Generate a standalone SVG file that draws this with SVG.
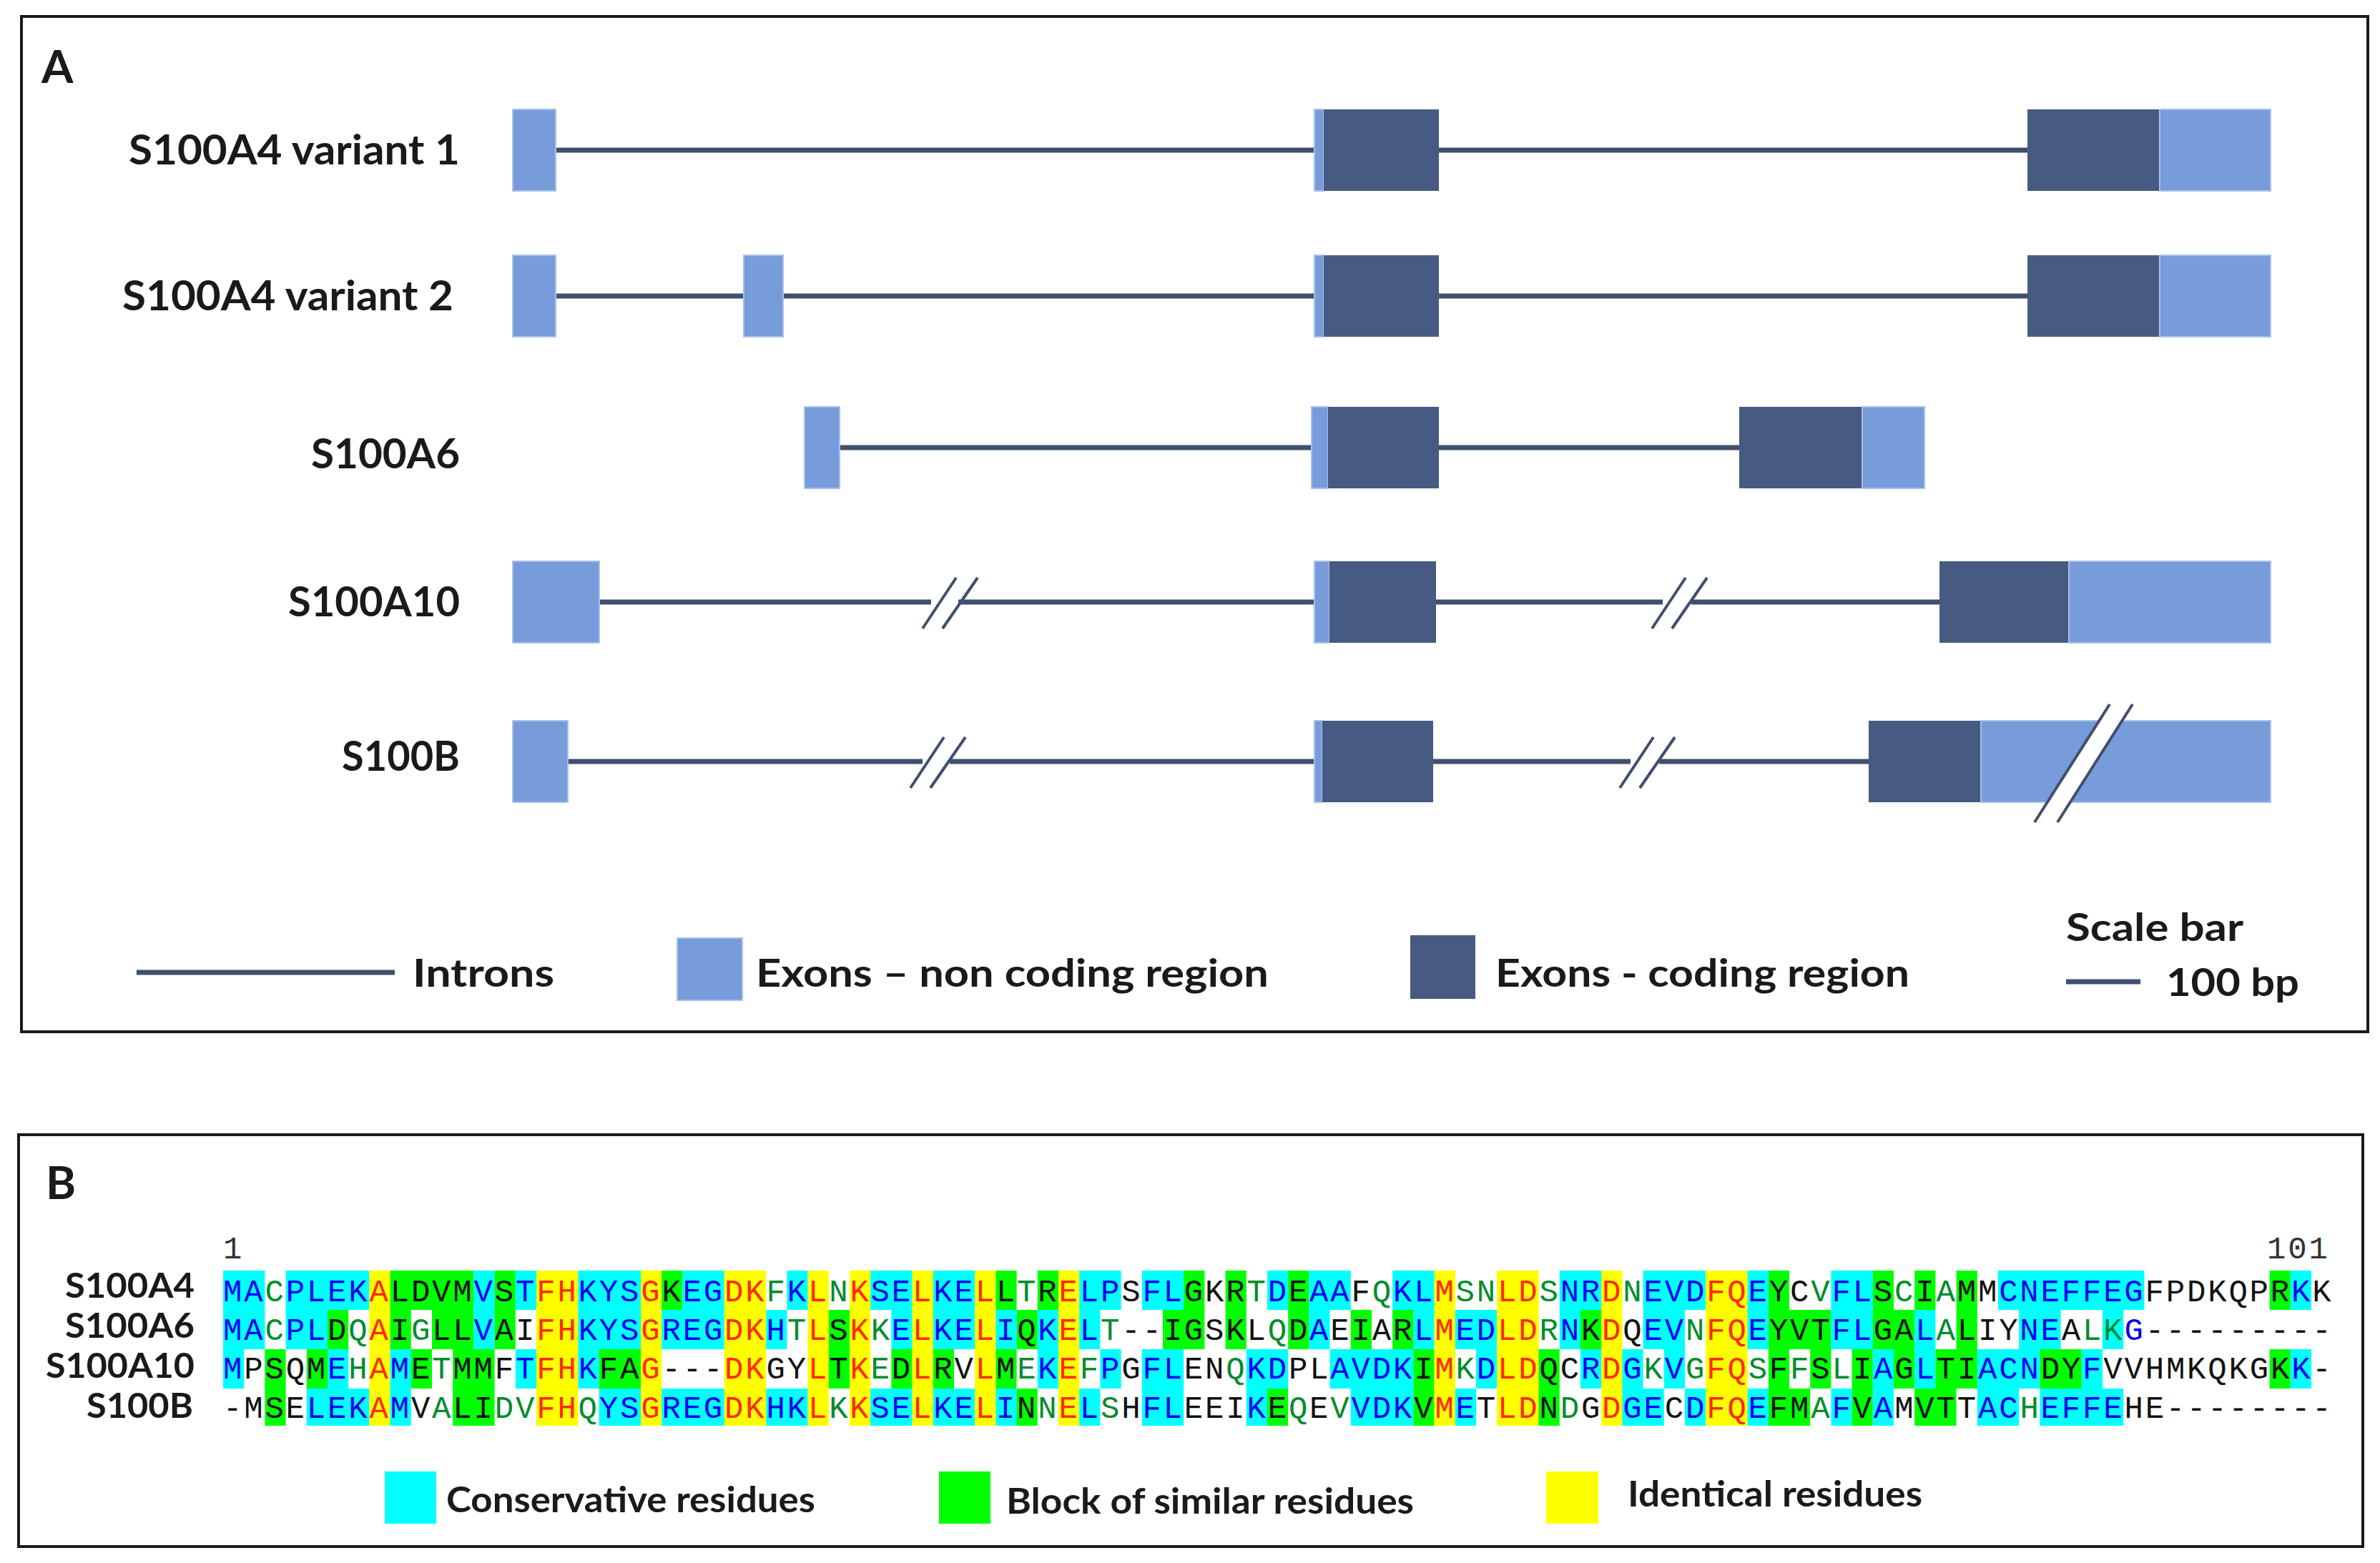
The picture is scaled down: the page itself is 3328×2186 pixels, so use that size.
<svg xmlns="http://www.w3.org/2000/svg" width="3328" height="2186" viewBox="0 0 3328 2186">
<defs>
<style>
.frame{fill:none;stroke:#1a1a1a;stroke-width:4}
.lbl{font-family:Lato,"Liberation Sans",sans-serif;font-weight:bold;fill:#1a1a1a}
.intron{stroke:#404f6c;stroke-width:7;fill:none}
.brk{stroke:#404f6c;stroke-width:4;fill:none}
.nc{fill:#789bda;stroke:#a8c0ec;stroke-width:2}
.cd{fill:#465a82}
.seq{font-family:"Liberation Mono","Courier New",monospace;font-size:44px;letter-spacing:2.8px}
.num{font-family:"Liberation Mono","Courier New",monospace;font-size:44px;letter-spacing:2.8px;fill:#333}
.b{fill:#0000f0}.r{fill:#ff2a00}.G{fill:#008c2c}.k{fill:#111}
.cy{fill:#00ffff}.gr{fill:#00ff00}.ye{fill:#ffff00}
</style>
</defs>
<rect width="3328" height="2186" fill="#fff"/>

<!-- Panel A -->
<g id="panelA">
<rect class="frame" x="30" y="23" width="3281" height="1420"/>
<text class="lbl" x="58" y="116" font-size="64">A</text>
</g>

<g id="labelsA" class="lbl" font-size="58" text-anchor="end">
<text x="643" y="230" textLength="463" lengthAdjust="spacingAndGlyphs">S100A4 variant 1</text>
<text x="634" y="434" textLength="463" lengthAdjust="spacingAndGlyphs">S100A4 variant 2</text>
<text x="643" y="655" textLength="208" lengthAdjust="spacingAndGlyphs">S100A6</text>
<text x="643" y="862" textLength="240" lengthAdjust="spacingAndGlyphs">S100A10</text>
<text x="643" y="1078" textLength="165" lengthAdjust="spacingAndGlyphs">S100B</text>
</g>

<g id="connectors">
<!-- row 1 -->
<line class="intron" x1="777" y1="210" x2="1838" y2="210"/>
<line class="intron" x1="2012" y1="210" x2="2835" y2="210"/>
<!-- row 2 -->
<line class="intron" x1="777" y1="414" x2="1040" y2="414"/>
<line class="intron" x1="1095" y1="414" x2="1838" y2="414"/>
<line class="intron" x1="2012" y1="414" x2="2835" y2="414"/>
<!-- row 3 -->
<line class="intron" x1="1174" y1="626" x2="1834" y2="626"/>
<line class="intron" x1="2012" y1="626" x2="2432" y2="626"/>
<!-- row 4 -->
<line class="intron" x1="838" y1="842" x2="1302" y2="842"/>
<line class="intron" x1="1340" y1="842" x2="1838" y2="842"/>
<line class="intron" x1="2008" y1="842" x2="2325" y2="842"/>
<line class="intron" x1="2365" y1="842" x2="2712" y2="842"/>
<path class="brk" d="M1290 879 L1337 808 M1318 879 L1367 808"/>
<path class="brk" d="M2310 879 L2357 808 M2338 879 L2387 808"/>
<!-- row 5 -->
<line class="intron" x1="794" y1="1065" x2="1290" y2="1065"/>
<line class="intron" x1="1328" y1="1065" x2="1838" y2="1065"/>
<line class="intron" x1="2004" y1="1065" x2="2280" y2="1065"/>
<line class="intron" x1="2320" y1="1065" x2="2613" y2="1065"/>
<path class="brk" d="M1273 1102 L1320 1031 M1301 1102 L1350 1031"/>
<path class="brk" d="M2265 1102 L2312 1031 M2293 1102 L2342 1031"/>
</g>

<g id="gene-S100A4-v1">
<rect class="nc" x="717" y="153" width="60" height="114"/>
<rect class="nc" x="1838" y="153" width="13" height="114"/>
<rect class="cd" x="1851" y="153" width="161" height="114"/>
<rect class="cd" x="2835" y="153" width="185" height="114"/>
<rect class="nc" x="3020" y="153" width="155" height="114"/>
</g>
<g id="gene-S100A4-v2">
<rect class="nc" x="717" y="357" width="60" height="114"/>
<rect class="nc" x="1040" y="357" width="55" height="114"/>
<rect class="nc" x="1838" y="357" width="13" height="114"/>
<rect class="cd" x="1851" y="357" width="161" height="114"/>
<rect class="cd" x="2835" y="357" width="185" height="114"/>
<rect class="nc" x="3020" y="357" width="155" height="114"/>
</g>
<g id="gene-S100A6">
<rect class="nc" x="1125" y="569" width="49" height="114"/>
<rect class="nc" x="1834" y="569" width="23" height="114"/>
<rect class="cd" x="1857" y="569" width="155" height="114"/>
<rect class="cd" x="2432" y="569" width="172" height="114"/>
<rect class="nc" x="2604" y="569" width="87" height="114"/>
</g>
<g id="gene-S100A10">
<rect class="nc" x="717" y="785" width="121" height="114"/>
<rect class="nc" x="1838" y="785" width="21" height="114"/>
<rect class="cd" x="1859" y="785" width="149" height="114"/>
<rect class="cd" x="2712" y="785" width="181" height="114"/>
<rect class="nc" x="2893" y="785" width="282" height="114"/>
</g>
<g id="gene-S100B">
<rect class="nc" x="717" y="1008" width="77" height="114"/>
<rect class="nc" x="1838" y="1008" width="11" height="114"/>
<rect class="cd" x="1849" y="1008" width="155" height="114"/>
<rect class="cd" x="2613" y="1008" width="157" height="114"/>
<rect class="nc" x="2770" y="1008" width="405" height="114"/>
<polygon points="2845,1150 2877,1150 2982,985 2950,985" fill="#fff"/>
<path class="brk" d="M2845 1150 L2950 985 M2877 1150 L2982 985"/>
</g>

<g id="legendA">
<line class="intron" x1="191" y1="1360" x2="552" y2="1360"/>
<text class="lbl" x="577" y="1380" font-size="54" textLength="198" lengthAdjust="spacingAndGlyphs">Introns</text>
<rect class="nc" x="947" y="1312" width="91" height="87"/>
<text class="lbl" x="1057" y="1380" font-size="54" textLength="717" lengthAdjust="spacingAndGlyphs">Exons – non coding region</text>
<rect class="cd" x="1972" y="1308" width="91" height="89"/>
<text class="lbl" x="2091" y="1380" font-size="54" textLength="579" lengthAdjust="spacingAndGlyphs">Exons - coding region</text>
<text class="lbl" x="2889" y="1316" font-size="54" textLength="248" lengthAdjust="spacingAndGlyphs">Scale bar</text>
<line class="intron" x1="2889" y1="1373" x2="2993" y2="1373"/>
<text class="lbl" x="3029" y="1393" font-size="54" textLength="186" lengthAdjust="spacingAndGlyphs">100 bp</text>
</g>

<!-- Panel B -->
<g id="panelB">
<rect class="frame" x="26" y="1587" width="3278" height="576"/>
<text class="lbl" x="64" y="1677" font-size="64">B</text>
</g>

<g id="labelsB" class="lbl" font-size="48" text-anchor="end">
<text x="272" y="1815" textLength="181" lengthAdjust="spacingAndGlyphs">S100A4</text>
<text x="272" y="1871" textLength="181" lengthAdjust="spacingAndGlyphs">S100A6</text>
<text x="272" y="1927" textLength="208" lengthAdjust="spacingAndGlyphs">S100A10</text>
<text x="270" y="1983" textLength="149" lengthAdjust="spacingAndGlyphs">S100B</text>
</g>

<g id="alignment-bg">
<!-- row 1 -->
<g transform="translate(0,1777)">
<rect class="cy" x="312" width="58.4" height="55"/>
<rect class="cy" x="399.6" width="116.8" height="55"/>
<rect class="ye" x="516.4" width="29.2" height="55"/>
<rect class="gr" x="545.6" width="116.8" height="55"/>
<rect class="cy" x="662.4" width="29.2" height="55"/>
<rect class="gr" x="691.6" width="29.2" height="55"/>
<rect class="cy" x="720.8" width="29.2" height="55"/>
<rect class="ye" x="750" width="58.4" height="55"/>
<rect class="cy" x="808.4" width="87.6" height="55"/>
<rect class="ye" x="896" width="29.2" height="55"/>
<rect class="gr" x="925.2" width="29.2" height="55"/>
<rect class="cy" x="954.4" width="58.4" height="55"/>
<rect class="ye" x="1012.8" width="58.4" height="55"/>
<rect class="cy" x="1100.4" width="29.2" height="55"/>
<rect class="ye" x="1129.6" width="29.2" height="55"/>
<rect class="ye" x="1188" width="29.2" height="55"/>
<rect class="cy" x="1217.2" width="58.4" height="55"/>
<rect class="ye" x="1275.6" width="29.2" height="55"/>
<rect class="cy" x="1304.8" width="58.4" height="55"/>
<rect class="ye" x="1363.2" width="29.2" height="55"/>
<rect class="gr" x="1392.4" width="29.2" height="55"/>
<rect class="gr" x="1450.8" width="29.2" height="55"/>
<rect class="ye" x="1480" width="29.2" height="55"/>
<rect class="cy" x="1509.2" width="58.4" height="55"/>
<rect class="cy" x="1596.8" width="58.4" height="55"/>
<rect class="gr" x="1655.2" width="29.2" height="55"/>
<rect class="gr" x="1713.6" width="29.2" height="55"/>
<rect class="cy" x="1772" width="29.2" height="55"/>
<rect class="gr" x="1801.2" width="29.2" height="55"/>
<rect class="cy" x="1830.4" width="58.4" height="55"/>
<rect class="cy" x="1947.2" width="58.4" height="55"/>
<rect class="ye" x="2005.6" width="29.2" height="55"/>
<rect class="ye" x="2093.2" width="58.4" height="55"/>
<rect class="cy" x="2180.8" width="58.4" height="55"/>
<rect class="ye" x="2239.2" width="29.2" height="55"/>
<rect class="cy" x="2297.6" width="87.6" height="55"/>
<rect class="ye" x="2385.2" width="58.4" height="55"/>
<rect class="cy" x="2443.6" width="29.2" height="55"/>
<rect class="gr" x="2472.8" width="29.2" height="55"/>
<rect class="cy" x="2560.4" width="58.4" height="55"/>
<rect class="gr" x="2618.8" width="29.2" height="55"/>
<rect class="gr" x="2677.2" width="29.2" height="55"/>
<rect class="gr" x="2735.6" width="29.2" height="55"/>
<rect class="cy" x="2794" width="204.4" height="55"/>
<rect class="gr" x="3173.6" width="29.2" height="55"/>
<rect class="cy" x="3202.8" width="29.2" height="55"/>
</g>
<!-- row 2 -->
<g transform="translate(0,1832)">
<rect class="cy" x="312" width="58.4" height="55"/>
<rect class="cy" x="399.6" width="58.4" height="55"/>
<rect class="gr" x="458" width="29.2" height="55"/>
<rect class="ye" x="516.4" width="29.2" height="55"/>
<rect class="gr" x="545.6" width="29.2" height="55"/>
<rect class="gr" x="604" width="58.4" height="55"/>
<rect class="cy" x="662.4" width="29.2" height="55"/>
<rect class="gr" x="691.6" width="29.2" height="55"/>
<rect class="ye" x="750" width="58.4" height="55"/>
<rect class="cy" x="808.4" width="87.6" height="55"/>
<rect class="ye" x="896" width="29.2" height="55"/>
<rect class="cy" x="925.2" width="87.6" height="55"/>
<rect class="ye" x="1012.8" width="58.4" height="55"/>
<rect class="cy" x="1071.2" width="29.2" height="55"/>
<rect class="ye" x="1129.6" width="29.2" height="55"/>
<rect class="gr" x="1158.8" width="29.2" height="55"/>
<rect class="ye" x="1188" width="29.2" height="55"/>
<rect class="cy" x="1246.4" width="29.2" height="55"/>
<rect class="ye" x="1275.6" width="29.2" height="55"/>
<rect class="cy" x="1304.8" width="58.4" height="55"/>
<rect class="ye" x="1363.2" width="29.2" height="55"/>
<rect class="cy" x="1392.4" width="29.2" height="55"/>
<rect class="gr" x="1421.6" width="29.2" height="55"/>
<rect class="cy" x="1450.8" width="29.2" height="55"/>
<rect class="ye" x="1480" width="29.2" height="55"/>
<rect class="cy" x="1509.2" width="29.2" height="55"/>
<rect class="gr" x="1626" width="58.4" height="55"/>
<rect class="gr" x="1713.6" width="29.2" height="55"/>
<rect class="gr" x="1801.2" width="29.2" height="55"/>
<rect class="cy" x="1830.4" width="29.2" height="55"/>
<rect class="gr" x="1888.8" width="29.2" height="55"/>
<rect class="gr" x="1947.2" width="29.2" height="55"/>
<rect class="cy" x="1976.4" width="29.2" height="55"/>
<rect class="ye" x="2005.6" width="29.2" height="55"/>
<rect class="cy" x="2034.8" width="58.4" height="55"/>
<rect class="ye" x="2093.2" width="58.4" height="55"/>
<rect class="cy" x="2180.8" width="29.2" height="55"/>
<rect class="gr" x="2210" width="29.2" height="55"/>
<rect class="ye" x="2239.2" width="29.2" height="55"/>
<rect class="cy" x="2297.6" width="58.4" height="55"/>
<rect class="ye" x="2385.2" width="58.4" height="55"/>
<rect class="cy" x="2443.6" width="29.2" height="55"/>
<rect class="gr" x="2472.8" width="87.6" height="55"/>
<rect class="cy" x="2560.4" width="58.4" height="55"/>
<rect class="gr" x="2618.8" width="58.4" height="55"/>
<rect class="cy" x="2677.2" width="29.2" height="55"/>
<rect class="gr" x="2735.6" width="29.2" height="55"/>
<rect class="cy" x="2823.2" width="58.4" height="55"/>
<rect class="cy" x="2940" width="29.2" height="55"/>
</g>
<!-- row 3 -->
<g transform="translate(0,1887)">
<rect class="cy" x="312" width="29.2" height="55"/>
<rect class="gr" x="370.4" width="29.2" height="55"/>
<rect class="gr" x="428.8" width="29.2" height="55"/>
<rect class="cy" x="458" width="29.2" height="55"/>
<rect class="ye" x="516.4" width="29.2" height="55"/>
<rect class="cy" x="545.6" width="29.2" height="55"/>
<rect class="gr" x="574.8" width="29.2" height="55"/>
<rect class="gr" x="633.2" width="58.4" height="55"/>
<rect class="cy" x="720.8" width="29.2" height="55"/>
<rect class="ye" x="750" width="58.4" height="55"/>
<rect class="cy" x="808.4" width="29.2" height="55"/>
<rect class="gr" x="837.6" width="58.4" height="55"/>
<rect class="ye" x="896" width="29.2" height="55"/>
<rect class="ye" x="1012.8" width="58.4" height="55"/>
<rect class="ye" x="1129.6" width="29.2" height="55"/>
<rect class="gr" x="1158.8" width="29.2" height="55"/>
<rect class="ye" x="1188" width="29.2" height="55"/>
<rect class="gr" x="1246.4" width="29.2" height="55"/>
<rect class="ye" x="1275.6" width="29.2" height="55"/>
<rect class="gr" x="1304.8" width="29.2" height="55"/>
<rect class="ye" x="1363.2" width="29.2" height="55"/>
<rect class="gr" x="1392.4" width="29.2" height="55"/>
<rect class="cy" x="1450.8" width="29.2" height="55"/>
<rect class="ye" x="1480" width="29.2" height="55"/>
<rect class="cy" x="1538.4" width="29.2" height="55"/>
<rect class="cy" x="1596.8" width="58.4" height="55"/>
<rect class="cy" x="1742.8" width="58.4" height="55"/>
<rect class="cy" x="1859.6" width="116.8" height="55"/>
<rect class="gr" x="1976.4" width="29.2" height="55"/>
<rect class="ye" x="2005.6" width="29.2" height="55"/>
<rect class="cy" x="2064" width="29.2" height="55"/>
<rect class="ye" x="2093.2" width="58.4" height="55"/>
<rect class="gr" x="2151.6" width="29.2" height="55"/>
<rect class="cy" x="2210" width="29.2" height="55"/>
<rect class="ye" x="2239.2" width="29.2" height="55"/>
<rect class="cy" x="2268.4" width="29.2" height="55"/>
<rect class="cy" x="2326.8" width="29.2" height="55"/>
<rect class="ye" x="2385.2" width="58.4" height="55"/>
<rect class="gr" x="2472.8" width="29.2" height="55"/>
<rect class="gr" x="2531.2" width="29.2" height="55"/>
<rect class="gr" x="2589.6" width="29.2" height="55"/>
<rect class="cy" x="2618.8" width="29.2" height="55"/>
<rect class="gr" x="2648" width="29.2" height="55"/>
<rect class="cy" x="2677.2" width="29.2" height="55"/>
<rect class="gr" x="2706.4" width="58.4" height="55"/>
<rect class="cy" x="2764.8" width="87.6" height="55"/>
<rect class="gr" x="2852.4" width="58.4" height="55"/>
<rect class="cy" x="2910.8" width="29.2" height="55"/>
<rect class="gr" x="3173.6" width="29.2" height="55"/>
<rect class="cy" x="3202.8" width="29.2" height="55"/>
</g>
<!-- row 4 -->
<g transform="translate(0,1942)">
<rect class="gr" x="370.4" width="29.2" height="52"/>
<rect class="cy" x="428.8" width="87.6" height="52"/>
<rect class="ye" x="516.4" width="29.2" height="52"/>
<rect class="cy" x="545.6" width="29.2" height="52"/>
<rect class="gr" x="633.2" width="58.4" height="52"/>
<rect class="ye" x="750" width="58.4" height="52"/>
<rect class="cy" x="837.6" width="58.4" height="52"/>
<rect class="ye" x="896" width="29.2" height="52"/>
<rect class="cy" x="925.2" width="87.6" height="52"/>
<rect class="ye" x="1012.8" width="58.4" height="52"/>
<rect class="cy" x="1071.2" width="58.4" height="52"/>
<rect class="ye" x="1129.6" width="29.2" height="52"/>
<rect class="ye" x="1188" width="29.2" height="52"/>
<rect class="cy" x="1217.2" width="58.4" height="52"/>
<rect class="ye" x="1275.6" width="29.2" height="52"/>
<rect class="cy" x="1304.8" width="58.4" height="52"/>
<rect class="ye" x="1363.2" width="29.2" height="52"/>
<rect class="cy" x="1392.4" width="29.2" height="52"/>
<rect class="gr" x="1421.6" width="29.2" height="52"/>
<rect class="ye" x="1480" width="29.2" height="52"/>
<rect class="cy" x="1509.2" width="29.2" height="52"/>
<rect class="cy" x="1596.8" width="58.4" height="52"/>
<rect class="cy" x="1742.8" width="29.2" height="52"/>
<rect class="gr" x="1772" width="29.2" height="52"/>
<rect class="cy" x="1888.8" width="87.6" height="52"/>
<rect class="gr" x="1976.4" width="29.2" height="52"/>
<rect class="ye" x="2005.6" width="29.2" height="52"/>
<rect class="cy" x="2034.8" width="29.2" height="52"/>
<rect class="ye" x="2093.2" width="58.4" height="52"/>
<rect class="gr" x="2151.6" width="29.2" height="52"/>
<rect class="ye" x="2239.2" width="29.2" height="52"/>
<rect class="cy" x="2268.4" width="58.4" height="52"/>
<rect class="cy" x="2356" width="29.2" height="52"/>
<rect class="ye" x="2385.2" width="58.4" height="52"/>
<rect class="cy" x="2443.6" width="29.2" height="52"/>
<rect class="gr" x="2472.8" width="58.4" height="52"/>
<rect class="cy" x="2560.4" width="29.2" height="52"/>
<rect class="gr" x="2589.6" width="29.2" height="52"/>
<rect class="cy" x="2618.8" width="29.2" height="52"/>
<rect class="gr" x="2677.2" width="58.4" height="52"/>
<rect class="cy" x="2764.8" width="58.4" height="52"/>
<rect class="cy" x="2852.4" width="116.8" height="52"/>
</g>
</g>

<g id="alignment-text" class="seq">
<text class="num" x="312" y="1760">1</text>
<text class="num" x="3170" y="1760">101</text>
<text x="312" y="1820"><tspan class="b">MA</tspan><tspan class="G">C</tspan><tspan class="b">PLEK</tspan><tspan class="r">A</tspan><tspan class="k">LDVM</tspan><tspan class="b">V</tspan><tspan class="k">S</tspan><tspan class="b">T</tspan><tspan class="r">FH</tspan><tspan class="b">KYS</tspan><tspan class="r">G</tspan><tspan class="k">K</tspan><tspan class="b">EG</tspan><tspan class="r">DK</tspan><tspan class="G">F</tspan><tspan class="b">K</tspan><tspan class="r">L</tspan><tspan class="G">N</tspan><tspan class="r">K</tspan><tspan class="b">SE</tspan><tspan class="r">L</tspan><tspan class="b">KE</tspan><tspan class="r">L</tspan><tspan class="k">L</tspan><tspan class="G">T</tspan><tspan class="k">R</tspan><tspan class="r">E</tspan><tspan class="b">LP</tspan><tspan class="k">S</tspan><tspan class="b">FL</tspan><tspan class="k">GKR</tspan><tspan class="G">T</tspan><tspan class="b">D</tspan><tspan class="k">E</tspan><tspan class="b">AA</tspan><tspan class="k">F</tspan><tspan class="G">Q</tspan><tspan class="b">KL</tspan><tspan class="r">M</tspan><tspan class="G">SN</tspan><tspan class="r">LD</tspan><tspan class="G">S</tspan><tspan class="b">NR</tspan><tspan class="r">D</tspan><tspan class="G">N</tspan><tspan class="b">EVD</tspan><tspan class="r">FQ</tspan><tspan class="b">E</tspan><tspan class="k">YC</tspan><tspan class="G">V</tspan><tspan class="b">FL</tspan><tspan class="k">S</tspan><tspan class="G">C</tspan><tspan class="k">I</tspan><tspan class="G">A</tspan><tspan class="k">MM</tspan><tspan class="b">CNEFFEG</tspan><tspan class="k">FPDKQPR</tspan><tspan class="b">K</tspan><tspan class="k">K</tspan></text>
<text x="312" y="1874"><tspan class="b">MA</tspan><tspan class="G">C</tspan><tspan class="b">PL</tspan><tspan class="k">D</tspan><tspan class="G">Q</tspan><tspan class="r">A</tspan><tspan class="k">I</tspan><tspan class="G">G</tspan><tspan class="k">LL</tspan><tspan class="b">V</tspan><tspan class="k">AI</tspan><tspan class="r">FH</tspan><tspan class="b">KYS</tspan><tspan class="r">G</tspan><tspan class="b">REG</tspan><tspan class="r">DK</tspan><tspan class="b">H</tspan><tspan class="G">T</tspan><tspan class="r">L</tspan><tspan class="k">S</tspan><tspan class="r">K</tspan><tspan class="G">K</tspan><tspan class="b">E</tspan><tspan class="r">L</tspan><tspan class="b">KE</tspan><tspan class="r">L</tspan><tspan class="b">I</tspan><tspan class="k">Q</tspan><tspan class="b">K</tspan><tspan class="r">E</tspan><tspan class="b">L</tspan><tspan class="G">T</tspan><tspan class="k">--IGSKL</tspan><tspan class="G">Q</tspan><tspan class="k">D</tspan><tspan class="b">A</tspan><tspan class="k">EIAR</tspan><tspan class="b">L</tspan><tspan class="r">M</tspan><tspan class="b">ED</tspan><tspan class="r">LD</tspan><tspan class="G">R</tspan><tspan class="b">N</tspan><tspan class="k">K</tspan><tspan class="r">D</tspan><tspan class="k">Q</tspan><tspan class="b">EV</tspan><tspan class="G">N</tspan><tspan class="r">FQ</tspan><tspan class="b">E</tspan><tspan class="k">YVT</tspan><tspan class="b">FL</tspan><tspan class="k">GA</tspan><tspan class="b">L</tspan><tspan class="G">A</tspan><tspan class="k">LIY</tspan><tspan class="b">NE</tspan><tspan class="k">A</tspan><tspan class="G">LK</tspan><tspan class="b">G</tspan><tspan class="k">---------</tspan></text>
<text x="312" y="1928"><tspan class="b">M</tspan><tspan class="k">PSQM</tspan><tspan class="b">E</tspan><tspan class="G">H</tspan><tspan class="r">A</tspan><tspan class="b">M</tspan><tspan class="k">E</tspan><tspan class="G">T</tspan><tspan class="k">MMF</tspan><tspan class="b">T</tspan><tspan class="r">FH</tspan><tspan class="b">K</tspan><tspan class="k">FA</tspan><tspan class="r">G</tspan><tspan class="k">---</tspan><tspan class="r">DK</tspan><tspan class="k">GY</tspan><tspan class="r">L</tspan><tspan class="k">T</tspan><tspan class="r">K</tspan><tspan class="G">E</tspan><tspan class="k">D</tspan><tspan class="r">L</tspan><tspan class="k">RV</tspan><tspan class="r">L</tspan><tspan class="k">M</tspan><tspan class="G">E</tspan><tspan class="b">K</tspan><tspan class="r">E</tspan><tspan class="G">F</tspan><tspan class="b">P</tspan><tspan class="k">G</tspan><tspan class="b">FL</tspan><tspan class="k">EN</tspan><tspan class="G">Q</tspan><tspan class="b">KD</tspan><tspan class="k">PL</tspan><tspan class="b">AVDK</tspan><tspan class="k">I</tspan><tspan class="r">M</tspan><tspan class="G">K</tspan><tspan class="b">D</tspan><tspan class="r">LD</tspan><tspan class="k">QC</tspan><tspan class="b">R</tspan><tspan class="r">D</tspan><tspan class="b">G</tspan><tspan class="G">K</tspan><tspan class="b">V</tspan><tspan class="G">G</tspan><tspan class="r">FQ</tspan><tspan class="G">S</tspan><tspan class="k">F</tspan><tspan class="G">F</tspan><tspan class="k">S</tspan><tspan class="G">L</tspan><tspan class="k">I</tspan><tspan class="b">A</tspan><tspan class="k">G</tspan><tspan class="b">L</tspan><tspan class="k">TI</tspan><tspan class="b">ACN</tspan><tspan class="k">DY</tspan><tspan class="b">F</tspan><tspan class="k">VVHMKQKGK</tspan><tspan class="b">K</tspan><tspan class="k">-</tspan></text>
<text x="312" y="1983"><tspan class="k">-MSE</tspan><tspan class="b">LEK</tspan><tspan class="r">A</tspan><tspan class="b">M</tspan><tspan class="k">V</tspan><tspan class="G">A</tspan><tspan class="k">LI</tspan><tspan class="G">DV</tspan><tspan class="r">FH</tspan><tspan class="G">Q</tspan><tspan class="b">YS</tspan><tspan class="r">G</tspan><tspan class="b">REG</tspan><tspan class="r">DK</tspan><tspan class="b">HK</tspan><tspan class="r">L</tspan><tspan class="G">K</tspan><tspan class="r">K</tspan><tspan class="b">SE</tspan><tspan class="r">L</tspan><tspan class="b">KE</tspan><tspan class="r">L</tspan><tspan class="b">I</tspan><tspan class="k">N</tspan><tspan class="G">N</tspan><tspan class="r">E</tspan><tspan class="b">L</tspan><tspan class="G">S</tspan><tspan class="k">H</tspan><tspan class="b">FL</tspan><tspan class="k">EEI</tspan><tspan class="b">K</tspan><tspan class="k">E</tspan><tspan class="G">Q</tspan><tspan class="k">E</tspan><tspan class="G">V</tspan><tspan class="b">VDK</tspan><tspan class="k">V</tspan><tspan class="r">M</tspan><tspan class="b">E</tspan><tspan class="k">T</tspan><tspan class="r">LD</tspan><tspan class="k">N</tspan><tspan class="G">D</tspan><tspan class="k">G</tspan><tspan class="r">D</tspan><tspan class="b">GE</tspan><tspan class="k">C</tspan><tspan class="b">D</tspan><tspan class="r">FQ</tspan><tspan class="b">E</tspan><tspan class="k">FM</tspan><tspan class="G">A</tspan><tspan class="b">F</tspan><tspan class="k">V</tspan><tspan class="b">A</tspan><tspan class="k">MVTT</tspan><tspan class="b">AC</tspan><tspan class="G">H</tspan><tspan class="b">EFFE</tspan><tspan class="k">HE--------</tspan></text>
</g>

<g id="legendB">
<rect class="cy" x="538" y="2058" width="72" height="73"/>
<text class="lbl" x="624" y="2115" font-size="50" textLength="516" lengthAdjust="spacingAndGlyphs">Conservative residues</text>
<rect class="gr" x="1313" y="2058" width="72" height="73"/>
<text class="lbl" x="1407" y="2117" font-size="50" textLength="570" lengthAdjust="spacingAndGlyphs">Block of similar residues</text>
<rect class="ye" x="2162" y="2058" width="73" height="73"/>
<text class="lbl" x="2276" y="2107" font-size="50" textLength="412" lengthAdjust="spacingAndGlyphs">Identical residues</text>
</g>
</svg>
